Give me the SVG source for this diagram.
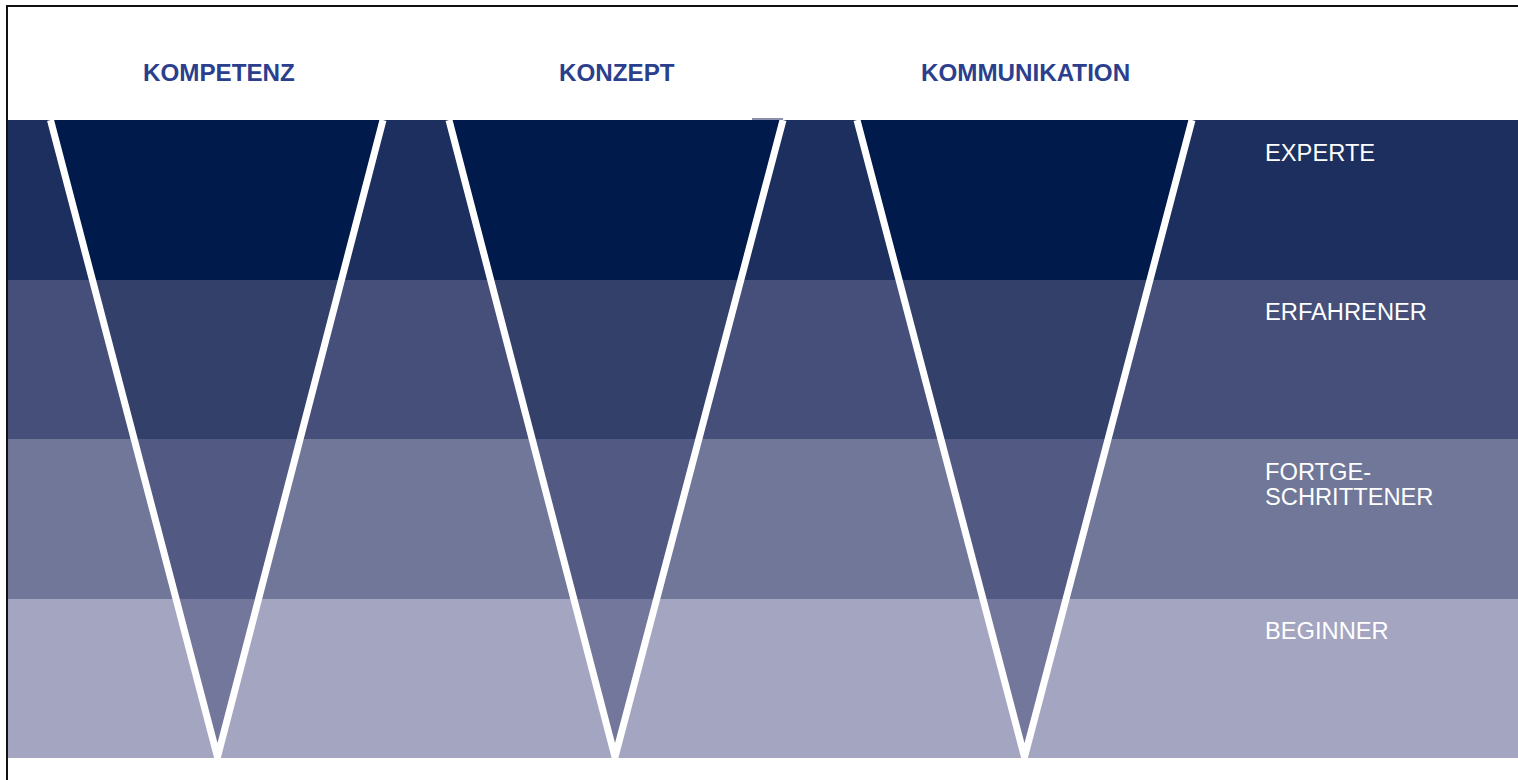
<svg xmlns="http://www.w3.org/2000/svg" width="1518" height="780" viewBox="0 0 1518 780">
  <style>
    .hdr { font-family: "Liberation Sans", Arial, sans-serif; font-size: 24.2px; font-weight: bold; fill: #2b3f8e; }
    .lvl { font-family: "Liberation Sans", Arial, sans-serif; font-size: 23.7px; fill: #ffffff; }
    .vline { stroke: #ffffff; stroke-width: 7; fill: none; stroke-linecap: butt; stroke-linejoin: miter; }
    .b1 { fill: #1c2f5e; } .b2 { fill: #454f79; } .b3 { fill: #707799; } .b4 { fill: #a4a5c0; }
    .d1 { fill: #001a4b; } .d2 { fill: #33416a; } .d3 { fill: #525a84; } .d4 { fill: #72779b; }
  </style>
  <defs>
    <clipPath id="cv1"><polygon points="50.5,120 383,120 217.5,757"/></clipPath>
    <clipPath id="cv2"><polygon points="449,120 783,120 615,757"/></clipPath>
    <clipPath id="cv3"><polygon points="857,120 1192,120 1024.5,757"/></clipPath>
    <clipPath id="cb"><rect x="0" y="120" width="1518" height="638"/></clipPath>
    <g id="darkbands">
      <rect class="d1" x="0" y="120" width="1518" height="160"/>
      <rect class="d2" x="0" y="280" width="1518" height="159"/>
      <rect class="d3" x="0" y="439" width="1518" height="160"/>
      <rect class="d4" x="0" y="599" width="1518" height="159"/>
    </g>
  </defs>
  <rect x="0" y="0" width="1518" height="780" fill="#ffffff"/>
  <!-- frame -->
  <path d="M7,780 V6 H1518" fill="none" stroke="#111111" stroke-width="2"/>

  <g id="bands">
    <rect class="b1" x="8" y="120" width="1510" height="160"/>
    <rect class="b2" x="8" y="280" width="1510" height="159"/>
    <rect class="b3" x="8" y="439" width="1510" height="160"/>
    <rect class="b4" x="8" y="599" width="1510" height="159"/>
    <rect x="752" y="118" width="31" height="2" fill="#8a90aa"/>
  </g>

  <g id="v-kompetenz">
    <use href="#darkbands" clip-path="url(#cv1)"/>
    <polyline class="vline" clip-path="url(#cb)" points="50.5,120 217.5,757 383,120"/>
  </g>
  <g id="v-konzept">
    <use href="#darkbands" clip-path="url(#cv2)"/>
    <polyline class="vline" clip-path="url(#cb)" points="449,120 615,757 783,120"/>
  </g>
  <g id="v-kommunikation">
    <use href="#darkbands" clip-path="url(#cv3)"/>
    <polyline class="vline" clip-path="url(#cb)" points="857,120 1024.5,757 1192,120"/>
  </g>

  <g id="headers">
    <g id="h-kompetenz"><text class="hdr" x="143" y="81">KOMPETENZ</text></g>
    <g id="h-konzept"><text class="hdr" x="559" y="81">KONZEPT</text></g>
    <g id="h-kommunikation"><text class="hdr" x="921" y="81">KOMMUNIKATION</text></g>
  </g>

  <g id="levels">
    <g id="l-experte"><text class="lvl" x="1265" y="161">EXPERTE</text></g>
    <g id="l-erfahrener"><text class="lvl" x="1265" y="320">ERFAHRENER</text></g>
    <g id="l-fortgeschrittener"><text class="lvl" x="1265" y="480">FORTGE-</text><text class="lvl" x="1265" y="505">SCHRITTENER</text></g>
    <g id="l-beginner"><text class="lvl" x="1265" y="639">BEGINNER</text></g>
  </g>
  <g id="connectors"/>
</svg>
